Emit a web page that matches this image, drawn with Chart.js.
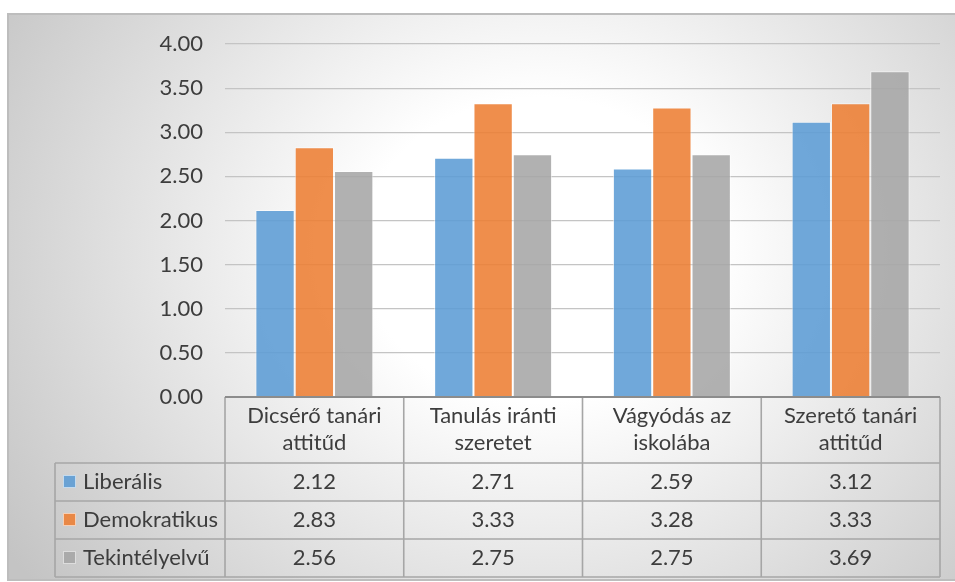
<!DOCTYPE html>
<html>
<head>
<meta charset="utf-8">
<script src="https://cdn.jsdelivr.net/npm/chart.js@4/dist/chart.umd.min.js"></script>
<style>
  html, body { margin: 0; padding: 0; background: #fff; overflow: hidden; }
  canvas { display: block; }
</style>
</head>
<body>
<canvas id="chart" width="955" height="582"></canvas>
<script>
// Category labels (two lines each, as shown in the table header)
const categories = [
  ['Dicsérő tanári', 'attitűd'],
  ['Tanulás iránti', 'szeretet'],
  ['Vágyódás az', 'iskolába'],
  ['Szerető tanári', 'attitűd']
];

// Series
const seriesNames = ['Liberális', 'Demokratikus', 'Tekintélyelvű'];
const liberalis = [2.12, 2.71, 2.59, 3.12];
const demokratikus = [2.83, 3.33, 3.28, 3.33];
const tekintelyelvu = [2.56, 2.75, 2.75, 3.69];

// Value axis
const yMin = 0;
const yMax = 4;
const yStep = 0.5;

const FONT = 'Lato, "Open Sans", sans-serif';
const FONT_SIZE = 22;
const TEXT = '#3d3d3d';
const fills = ['rgba(91,155,213,0.87)', 'rgba(237,125,49,0.87)', 'rgba(165,165,165,0.87)'];
const swatches = ['#5B9BD5', '#ED7D31', '#A5A5A5'];

// Frame with soft radial shading behind everything
const frameBackground = {
  id: 'frameBackground',
  beforeDraw(chart) {
    const ctx = chart.ctx;
    const W = chart.width, H = chart.height;
    ctx.save();
    ctx.fillStyle = '#ffffff';
    ctx.fillRect(0, 0, W, H);
    const fx = 8, fy = 14, fw = W - fx + 2, fh = 580 - fy;
    ctx.beginPath();
    ctx.rect(fx, fy, fw, fh);
    ctx.clip();
    ctx.translate(540, 250);
    ctx.scale(1, 0.85);
    const g = ctx.createRadialGradient(0, 0, 0, 0, 0, 640);
    g.addColorStop(0, '#ffffff');
    g.addColorStop(0.28, '#ffffff');
    g.addColorStop(1, '#c4c4c4');
    ctx.fillStyle = g;
    ctx.fillRect(-700, -700, 1400, 1400);
    ctx.restore();
    ctx.save();
    ctx.strokeStyle = '#bdbdbd';
    ctx.lineWidth = 2;
    ctx.strokeRect(fx, fy, fw, fh);
    ctx.restore();
  }
};

// Data table under the plot, aligned with the category scale
const dataTable = {
  id: 'dataTable',
  afterDraw(chart) {
    const ctx = chart.ctx;
    const a = chart.chartArea;
    const x = chart.scales.x;
    const n = categories.length;
    const cw = (a.right - a.left) / n;
    const top = a.bottom;
    const headH = 66;
    const rowH = 38;
    const legL = 55;
    const bottom = top + headH + rowH * chart.data.datasets.length;

    ctx.save();
    ctx.font = FONT_SIZE + 'px ' + FONT;
    ctx.fillStyle = TEXT;
    ctx.textAlign = 'center';
    ctx.textBaseline = 'alphabetic';

    categories.forEach((lines, i) => {
      const cx = x.getPixelForValue(i);
      lines.forEach((line, k) => ctx.fillText(line, cx, top + 26 + k * 27));
    });

    chart.data.datasets.forEach((ds, r) => {
      const rt = top + headH + rowH * r;
      const base = rt + 26;
      ctx.fillStyle = TEXT;
      ctx.textAlign = 'center';
      ds.data.forEach((v, i) => ctx.fillText(v.toFixed(2), x.getPixelForValue(i), base));
      // legend key
      const sy = rt + rowH / 2 - 7;
      ctx.fillStyle = swatches[r];
      ctx.globalAlpha = 0.87;
      ctx.fillRect(63, sy, 13, 13);
      ctx.globalAlpha = 1;
      ctx.strokeStyle = 'rgba(255,255,255,0.6)';
      ctx.lineWidth = 1;
      ctx.strokeRect(63.5, sy + 0.5, 12, 12);
      ctx.fillStyle = TEXT;
      ctx.textAlign = 'left';
      ctx.fillText(ds.label, 83, base);
    });

    // grid of the table
    ctx.strokeStyle = '#a6a6a6';
    ctx.lineWidth = 1.6;
    ctx.beginPath();
    for (let r = 0; r <= chart.data.datasets.length; r++) {
      const y = top + headH + rowH * r;
      ctx.moveTo(legL, y);
      ctx.lineTo(a.right, y);
    }
    for (let i = 0; i <= n; i++) {
      const vx = a.left + cw * i;
      ctx.moveTo(vx, top);
      ctx.lineTo(vx, bottom);
    }
    ctx.moveTo(legL, top + headH);
    ctx.lineTo(legL, bottom);
    ctx.stroke();

    // category axis line
    ctx.strokeStyle = '#8c8c8c';
    ctx.lineWidth = 2;
    ctx.beginPath();
    ctx.moveTo(a.left, top);
    ctx.lineTo(a.right, top);
    ctx.stroke();
    ctx.restore();
  }
};

const datasets = [liberalis, demokratikus, tekintelyelvu].map((values, i) => ({
  label: seriesNames[i],
  data: values,
  backgroundColor: fills[i],
  borderColor: 'rgba(255,255,255,0.55)',
  borderWidth: 1,
  categoryPercentage: 0.66,
  barPercentage: 1.0
}));

new Chart(document.getElementById('chart'), {
  type: 'bar',
  data: { labels: categories, datasets },
  options: {
    responsive: false,
    animation: false,
    devicePixelRatio: 1,
    layout: { padding: { left: 8, right: 15, top: 44, bottom: 185 } },
    plugins: {
      legend: { display: false },
      tooltip: { enabled: false },
      title: { display: false }
    },
    scales: {
      x: { display: false },
      y: {
        min: yMin,
        max: yMax,
        afterFit(scale) { scale.width = 217; },
        border: { display: false },
        grid: { color: '#c4c4c4', lineWidth: 1.2, drawTicks: false },
        ticks: {
          stepSize: yStep,
          padding: 22,
          color: TEXT,
          font: { family: FONT, size: FONT_SIZE },
          callback: v => Number(v).toFixed(2)
        }
      }
    }
  },
  plugins: [frameBackground, dataTable]
});
</script>
</body>
</html>
